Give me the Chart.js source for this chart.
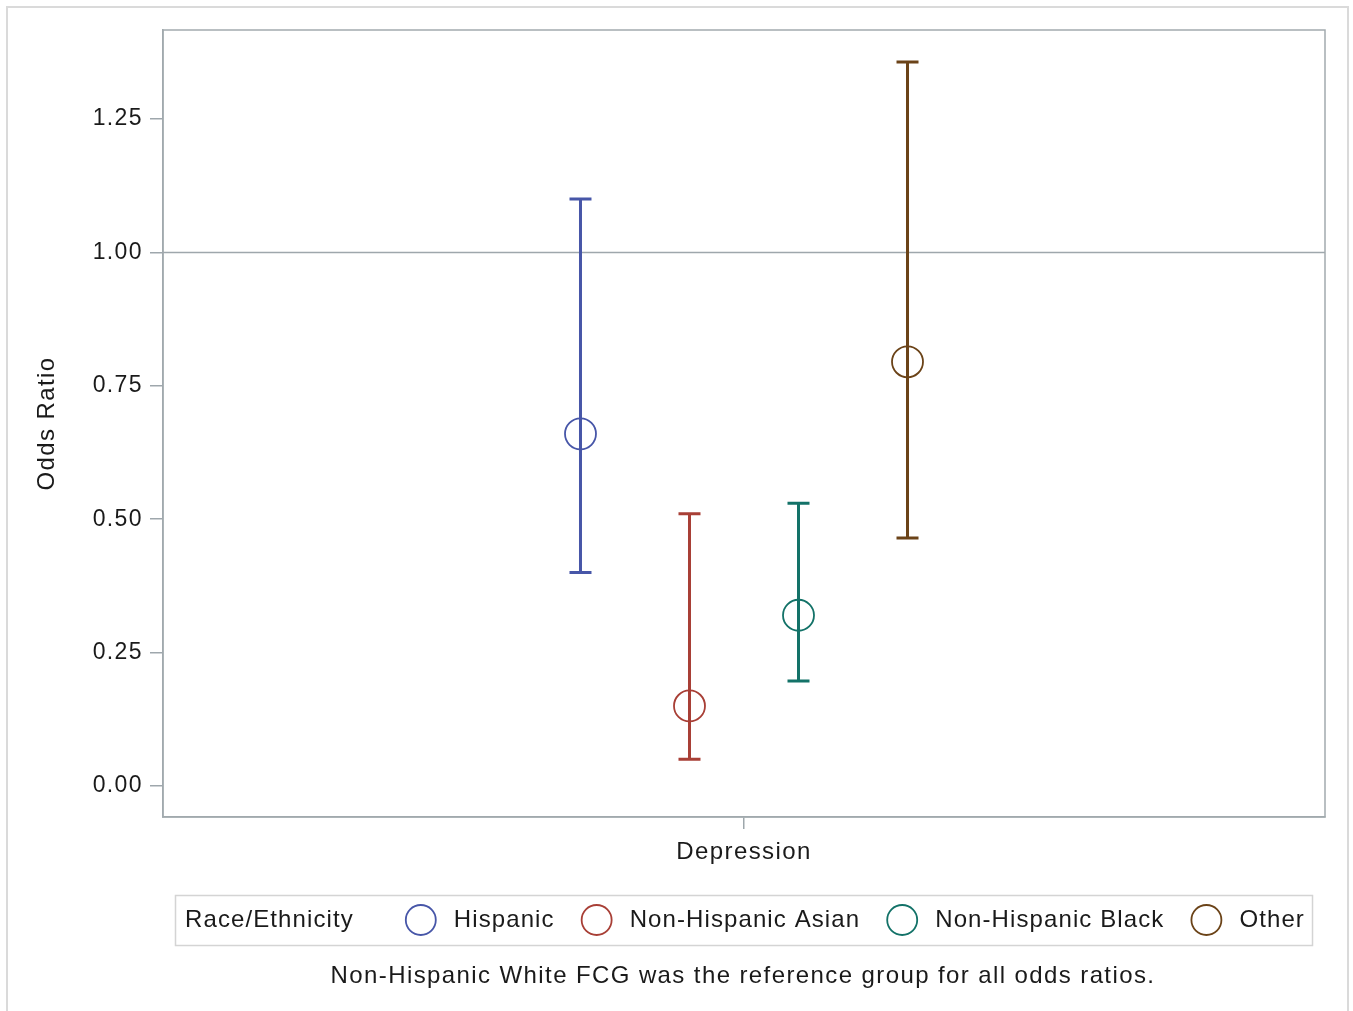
<!DOCTYPE html>
<html>
<head>
<meta charset="utf-8">
<script src="https://cdn.jsdelivr.net/npm/chart.js@4.4.1/dist/chart.umd.min.js"></script>
<style>
html,body{margin:0;padding:0;background:#fff;}
#wrap{position:relative;width:1353px;height:1011px;}
</style>
</head>
<body>
<div id="wrap"><canvas id="c" width="1353" height="1011"></canvas></div>
<script>
// ---- data ----
const categories = ['Depression'];
const seriesNames = ['Hispanic', 'Non-Hispanic Asian', 'Non-Hispanic Black', 'Other'];
const oddsRatio = [0.66, 0.15, 0.32, 0.795];
const lowerCI = [0.40, 0.05, 0.197, 0.465];
const upperCI = [1.10, 0.51, 0.53, 1.357];
const yTicks = [0.00, 0.25, 0.50, 0.75, 1.00, 1.25];
const referenceValue = 1.0;
const legendTitle = 'Race/Ethnicity';
const footnote = 'Non-Hispanic White FCG was the reference group for all odds ratios.';
const yTitle = 'Odds Ratio';

// ---- styles ----
const colors = ['#4756a8', '#a83f36', '#137268', '#6b4318'];
const FONT = '"Liberation Sans", Arial, sans-serif';
const SPACING = '1.4px';
const LEGEND_SPACING = '1.1px';
const axisGrey = '#9ea7ac';
const textColor = '#1a1a1a';
const clusterSpacing = 1; // x-units between adjacent groups

const datasets = seriesNames.map((name, i) => ({
  label: name,
  data: [{ x: 0 + (i - (seriesNames.length - 1) / 2) * clusterSpacing, y: oddsRatio[i], lo: lowerCI[i], hi: upperCI[i] }],
  borderColor: colors[i],
  backgroundColor: 'rgba(0,0,0,0)',
  pointRadius: 15.5,
  pointHoverRadius: 15.5,
  pointBorderWidth: 1.8,
  pointStyle: 'circle',
  showLine: false
}));

const spacingPlugin = {
  id: 'spacing',
  beforeLayout(chart) { chart.ctx.letterSpacing = SPACING; },
  beforeDraw(chart) { chart.ctx.letterSpacing = SPACING; }
};

const extrasPlugin = {
  id: 'extras',
  beforeDatasetsDraw(chart) {
    const ctx = chart.ctx, xs = chart.scales.x, ys = chart.scales.y, a = chart.chartArea;
    ctx.save();
    // reference line
    const yr = ys.getPixelForValue(referenceValue);
    ctx.strokeStyle = axisGrey; ctx.lineWidth = 1.5;
    ctx.beginPath(); ctx.moveTo(a.left, yr); ctx.lineTo(a.right, yr); ctx.stroke();
    // error bars
    chart.data.datasets.forEach((ds, i) => {
      ds.data.forEach(p => {
        const x = xs.getPixelForValue(p.x);
        const yl = ys.getPixelForValue(p.lo), yh = ys.getPixelForValue(p.hi);
        ctx.strokeStyle = ds.borderColor; ctx.lineWidth = 3;
        ctx.beginPath();
        ctx.moveTo(x, yl); ctx.lineTo(x, yh);
        ctx.moveTo(x - 11, yl); ctx.lineTo(x + 11, yl);
        ctx.moveTo(x - 11, yh); ctx.lineTo(x + 11, yh);
        ctx.stroke();
      });
    });
    ctx.restore();
  },
  afterDraw(chart) {
    const ctx = chart.ctx, a = chart.chartArea;
    ctx.save();
    // plot frame
    ctx.strokeStyle = '#a2aaae'; ctx.lineWidth = 1.5;
    ctx.strokeRect(a.left, a.top, a.right - a.left, a.bottom - a.top);
    // outer frame
    ctx.strokeStyle = '#dadada'; ctx.lineWidth = 2;
    ctx.strokeRect(7, 7, 1341, 1030);
    // legend
    const ly = 920;
    ctx.strokeStyle = '#d4d4d4'; ctx.lineWidth = 1.5;
    ctx.strokeRect(175.5, 895.5, 1137, 50);
    ctx.letterSpacing = LEGEND_SPACING;
    ctx.font = '24px ' + FONT;
    ctx.fillStyle = textColor;
    ctx.textBaseline = 'middle';
    ctx.textAlign = 'left';
    let x = 185;
    ctx.fillText(legendTitle, x, ly);
    x += ctx.measureText(legendTitle).width + 52;
    chart.data.datasets.forEach((ds, i) => {
      ctx.strokeStyle = ds.borderColor; ctx.lineWidth = 1.8;
      ctx.beginPath(); ctx.arc(x + 15, ly, 15, 0, Math.PI * 2); ctx.stroke();
      x += 30 + 18;
      ctx.fillStyle = textColor;
      ctx.fillText(ds.label, x, ly);
      x += ctx.measureText(ds.label).width + 27;
    });
    // footnote
    ctx.letterSpacing = SPACING;
    ctx.textAlign = 'center';
    ctx.fillText(footnote, 743, 976);
    ctx.restore();
  }
};

new Chart(document.getElementById('c'), {
  type: 'scatter',
  data: { datasets },
  plugins: [spacingPlugin, extrasPlugin],
  options: {
    responsive: false,
    animation: false,
    events: [],
    layout: { padding: { left: 33, top: 30, right: 28, bottom: 0 } },
    plugins: { legend: { display: false }, tooltip: { enabled: false } },
    scales: {
      x: {
        type: 'linear',
        min: -5.33, max: 5.33,
        afterBuildTicks(s) { s.ticks = [{ value: 0 }]; },
        afterFit(s) { s.height = 1011 - 817; },
        ticks: {
          callback: () => categories[0],
          font: { family: FONT, size: 24 }, color: textColor, padding: 9, maxRotation: 0
        },
        grid: { drawOnChartArea: false, drawTicks: true, tickLength: 12, color: axisGrey, lineWidth: 1.5 },
        border: { display: true, color: axisGrey, width: 1.5 }
      },
      y: {
        min: -0.0581, max: 1.4168,
        afterBuildTicks(s) { s.ticks = yTicks.map(v => ({ value: v })); },
        afterFit(s) { s.width = 163 - 33; },
        ticks: {
          callback: v => v.toFixed(2),
          font: { family: FONT, size: 23 }, color: textColor, padding: 7
        },
        title: { display: true, text: yTitle, font: { family: FONT, size: 24 }, color: textColor, padding: { top: 0, bottom: 0 } },
        grid: { drawOnChartArea: false, drawTicks: true, tickLength: 13, color: axisGrey, lineWidth: 1.5 },
        border: { display: true, color: axisGrey, width: 1.5 }
      }
    }
  }
});
</script>
</body>
</html>
